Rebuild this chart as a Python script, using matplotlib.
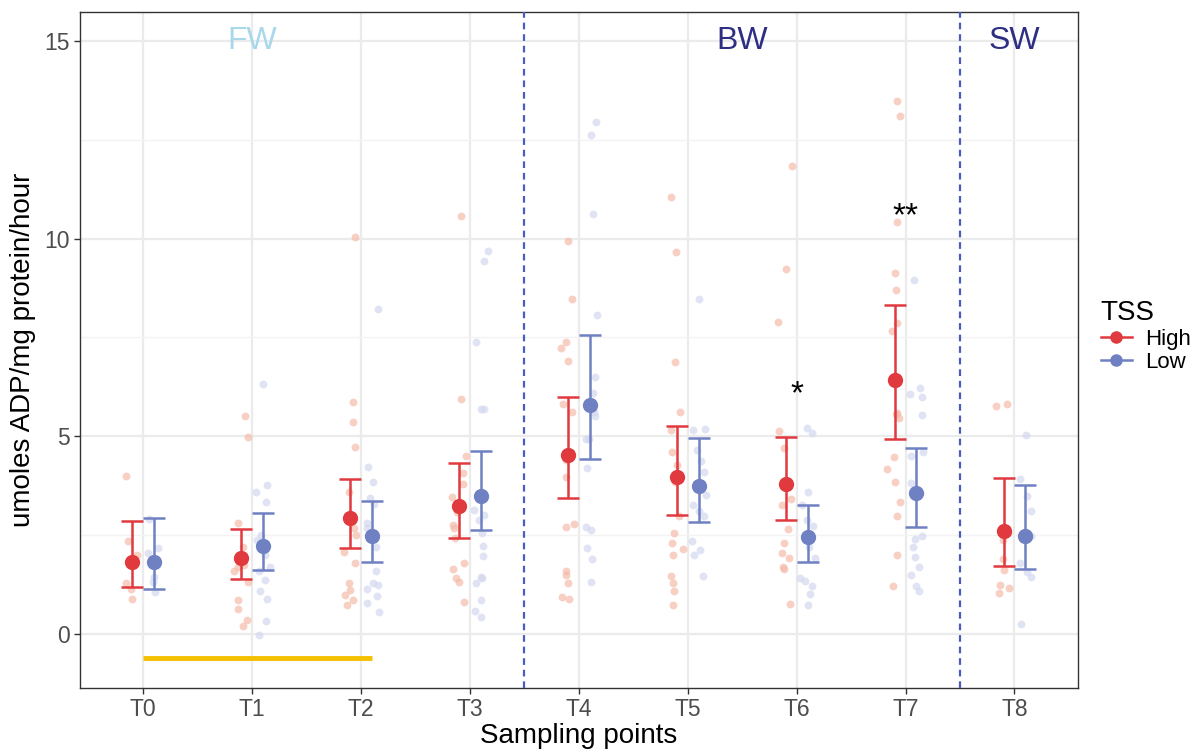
import numpy as np
import matplotlib
matplotlib.use("Agg")
import matplotlib.pyplot as plt
from matplotlib.lines import Line2D

plt.rcParams['font.family'] = ['Liberation Sans', 'DejaVu Sans']

# sampling points
points = ['T0', 'T1', 'T2', 'T3', 'T4', 'T5', 'T6', 'T7', 'T8']

# group means and error bar limits (High / Low TSS)
high_mean = [1.83, 1.93, 2.93, 3.24, 4.53, 3.98, 3.79, 6.41, 2.60]
high_lo = [1.18, 1.40, 2.18, 2.42, 3.43, 3.01, 2.88, 4.93, 1.72]
high_hi = [2.86, 2.65, 3.91, 4.32, 6.00, 5.26, 4.99, 8.32, 3.95]
low_mean = [1.83, 2.23, 2.48, 3.49, 5.78, 3.75, 2.45, 3.56, 2.47]
low_lo = [1.14, 1.62, 1.81, 2.63, 4.42, 2.83, 1.82, 2.71, 1.64]
low_hi = [2.94, 3.05, 3.37, 4.63, 7.55, 4.95, 3.27, 4.70, 3.76]

# raw observations read from the jittered points
high_raw = [
    [4.0, 2.36, 2.0, 1.8, 1.28, 1.13, 0.88],
    [5.51, 4.99, 2.8, 2.21, 1.75, 1.7, 1.58, 1.32, 0.86, 0.64, 0.35, 0.21],
    [10.05, 5.87, 5.37, 4.74, 3.6, 2.67, 2.5, 2.08, 1.79, 1.30, 1.11, 0.99, 0.86, 0.73],
    [10.57, 5.94, 4.49, 4.07, 3.79, 3.47, 3.09, 2.76, 2.67, 2.42, 1.79, 1.64, 1.41, 1.32, 0.80],
    [9.93, 8.47, 7.38, 7.24, 6.91, 5.82, 5.61, 4.40, 3.98, 2.78, 2.71, 1.58, 1.49, 1.28, 0.93, 0.89],
    [11.04, 9.67, 6.89, 5.61, 5.16, 4.6, 4.28, 3.85, 2.99, 2.56, 2.29, 2.14, 2.0, 1.47, 1.28, 1.09, 0.72],
    [11.83, 9.23, 7.88, 5.14, 4.70, 3.41, 3.27, 2.66, 2.30, 2.04, 1.93, 1.69, 1.65, 0.76],
    [13.47, 13.11, 10.42, 9.13, 8.71, 7.87, 7.66, 5.60, 5.56, 5.47, 4.47, 4.18, 3.84, 3.34, 2.97, 2.0, 1.20],
    [5.82, 5.77, 2.54, 2.37, 1.89, 1.61, 1.24, 1.15, 1.03],
]
low_raw = [
    [2.9, 2.18, 2.04, 1.83, 1.45, 1.32, 1.05],
    [6.31, 3.76, 3.58, 3.34, 2.5, 2.38, 2.0, 1.70, 1.6, 1.37, 1.08, 0.89, 0.32, -0.03],
    [8.23, 4.23, 3.85, 3.45, 3.29, 2.80, 2.67, 2.21, 1.60, 1.30, 1.24, 1.14, 0.97, 0.79, 0.56],
    [9.69, 9.42, 7.39, 5.69, 5.68, 3.14, 3.01, 2.88, 2.55, 2.23, 1.97, 1.43, 1.42, 1.30, 0.86, 0.59, 0.42],
    [12.94, 12.62, 10.62, 8.07, 6.51, 6.09, 5.62, 5.50, 4.93, 4.92, 4.19, 2.71, 2.63, 2.17, 1.90, 1.31],
    [8.46, 5.18, 5.15, 4.65, 4.38, 4.09, 3.52, 3.26, 3.11, 2.97, 2.34, 2.12, 2.0, 1.47],
    [5.22, 5.08, 3.60, 3.25, 2.88, 2.73, 2.21, 1.93, 1.41, 1.35, 1.22, 1.02, 0.72],
    [8.96, 6.22, 6.08, 5.99, 5.53, 4.60, 4.51, 3.82, 2.47, 2.39, 2.21, 1.95, 1.69, 1.48, 1.22, 1.09],
    [5.02, 3.91, 3.50, 3.10, 2.47, 1.80, 1.57, 1.45, 0.24],
]

# significance marks
sig_pos = [7, 8]
sig_y = [6.05, 10.55]
sig_txt = ['*', '**']

# zones
zone_names = ['FW', 'BW', 'SW']
zone_x = [2, 6.5, 9]
zone_colors = ['#A8D8EA', '#2E2F83', '#2E2F83']
zone_breaks = [4.5, 8.5]

red = '#E0393E'
blue = '#6F81C2'
red_pt = '#F5BBAA'
blue_pt = '#D4D8EE'

fig = plt.figure(figsize=(12, 7.52), dpi=100)
ax = fig.add_axes([0.0667, 0.085, 0.8313, 0.899])

x = np.arange(1, len(points) + 1)
dodge = 0.1
rng = np.random.default_rng(3)

# jittered raw points
for i in range(len(points)):
    for vals, off, col in [(high_raw[i], -dodge, red_pt), (low_raw[i], dodge, blue_pt)]:
        jx = x[i] + off + rng.uniform(-0.07, 0.07, len(vals))
        ax.scatter(jx, vals, s=32, color=col, alpha=0.7, linewidths=0, zorder=2)

# means with error bars
for mean, lo, hi, off, col in [(high_mean, high_lo, high_hi, -dodge, red),
                               (low_mean, low_lo, low_hi, dodge, blue)]:
    m = np.array(mean)
    err = [m - np.array(lo), np.array(hi) - m]
    ax.errorbar(x + off, m, yerr=err, fmt='o', color=col, ms=10,
                elinewidth=1.8, capsize=8, capthick=1.8, zorder=4)

for b in zone_breaks:
    ax.axvline(b, color='#4A5CC0', linestyle=(0, (3, 2.2)), lw=1.6, zorder=3)

for name, zx, zc in zip(zone_names, zone_x, zone_colors):
    ax.text(zx, 15, name, color=zc, fontsize=23, ha='center', va='center')

for p, yy, t in zip(sig_pos, sig_y, sig_txt):
    ax.text(p, yy, t, fontsize=24, ha='center', va='center', color='black')

# FW bar
ax.plot([1, 3.1], [-0.61, -0.61], color='#F5C000', lw=3.5, solid_capstyle='butt', zorder=3)

ax.set_xlim(0.42, 9.58)
ax.set_ylim(-1.37, 15.73)
ax.set_xticks(x)
ax.set_xticklabels(points)
ax.set_yticks([0, 5, 10, 15])
ax.set_yticks([2.5, 7.5, 12.5], minor=True)
ax.tick_params(axis='both', which='major', labelsize=16.5, labelcolor='#4D4D4D',
               color='#333333', length=4, width=1)
ax.tick_params(axis='y', which='minor', length=0)
ax.grid(True, which='major', color='#EBEBEB', lw=1.6, zorder=0)
ax.grid(True, which='minor', axis='y', color='#F3F3F3', lw=1.0, zorder=0)
ax.set_axisbelow(True)
for s in ax.spines.values():
    s.set_color('#333333')
    s.set_linewidth(1)

ax.set_xlabel('Sampling points', fontsize=20, labelpad=1)
ax.set_ylabel('umoles ADP/mg protein/hour', fontsize=20, labelpad=6)

handles = [Line2D([0], [0], color=red, marker='o', ms=8, lw=1.8),
           Line2D([0], [0], color=blue, marker='o', ms=8, lw=1.8)]
leg = ax.legend(handles, ['High', 'Low'], title='TSS', loc='center left',
                bbox_to_anchor=(1.003, 0.52), frameon=False, fontsize=16,
                title_fontsize=20, handlelength=1.4, labelspacing=0.1,
                handletextpad=0.6)
leg._legend_box.align = 'left'

fig.savefig('out.png', dpi=100)
